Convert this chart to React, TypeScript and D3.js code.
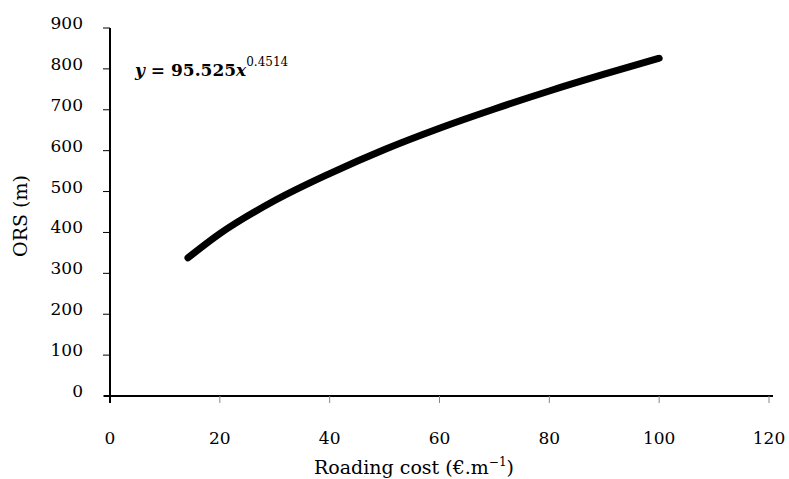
import React, { useEffect, useRef } from 'react';
import * as d3 from 'd3';

// values
const costs = [14.2, 20, 30, 40, 50, 60, 70, 80, 90, 100];
const ors = [338, 397, 478, 544, 603, 655, 702, 746, 787, 826];
const xTicks = [0, 20, 40, 60, 80, 100, 120];
const yTicks = [0, 100, 200, 300, 400, 500, 600, 700, 800, 900];

const width = 789;
const height = 479;
const margin = { top: 28, right: 20, bottom: 83, left: 110 };
const font = '"DejaVu Serif", serif';

/* App: draws the ORS vs roading cost curve */
export default function App() {
  const ref = useRef<SVGSVGElement>(null);

  useEffect(() => {
    const svg = d3.select(ref.current);
    svg.selectAll('*').remove();

    const x = d3.scaleLinear().domain([0, 120]).range([margin.left, 769]);
    const y = d3.scaleLinear().domain([0, 900]).range([height - margin.bottom, margin.top]);

    // x axis
    const gx = svg.append('g').attr('transform', `translate(0,${y(0)})`);
    gx.append('line')
      .attr('x1', x(0) - 6).attr('x2', x(120) + 4)
      .attr('stroke', '#000').attr('stroke-width', 2);
    gx.selectAll('line.tick').data(xTicks).enter().append('line')
      .attr('class', 'tick')
      .attr('x1', d => x(d)).attr('x2', d => x(d))
      .attr('y1', 0).attr('y2', 7)
      .attr('stroke', d => (d === 0 ? '#000' : '#888'))
      .attr('stroke-width', d => (d === 0 ? 2 : 1));
    gx.selectAll('text').data(xTicks).enter().append('text')
      .attr('x', d => x(d)).attr('y', 48)
      .attr('text-anchor', 'middle')
      .style('font-family', font).style('font-size', '17px')
      .text(d => d);

    // y axis
    const gy = svg.append('g').attr('transform', `translate(${x(0)},0)`);
    gy.append('line')
      .attr('y1', y(900)).attr('y2', y(0))
      .attr('stroke', '#000').attr('stroke-width', 2);
    gy.selectAll('line.tick').data(yTicks).enter().append('line')
      .attr('class', 'tick')
      .attr('x1', -7).attr('x2', 0)
      .attr('y1', d => y(d)).attr('y2', d => y(d))
      .attr('stroke', '#000').attr('stroke-width', 1);
    gy.selectAll('text').data(yTicks).enter().append('text')
      .attr('x', -27).attr('y', d => y(d) + 1)
      .attr('text-anchor', 'end')
      .style('font-family', font).style('font-size', '17px')
      .text(d => d);

    // curve
    const line = d3.line<number>()
      .x((d, i) => x(costs[i]))
      .y(d => y(d))
      .curve(d3.curveMonotoneX);
    svg.append('path')
      .datum(ors)
      .attr('d', line)
      .attr('fill', 'none')
      .attr('stroke', '#000')
      .attr('stroke-width', 7)
      .attr('stroke-linecap', 'round');

    // equation
    const eq = svg.append('text')
      .attr('x', 135).attr('y', 76)
      .style('font-family', font).style('font-size', '17px').style('font-weight', 'bold');
    eq.append('tspan').style('font-style', 'italic').text('y');
    eq.append('tspan').text(' = 95.525');
    eq.append('tspan').style('font-style', 'italic').text('x');
    eq.append('tspan').attr('dy', -10).style('font-size', '12px').style('font-weight', 'normal').text('0.4514');

    // axis titles
    const xt = svg.append('text')
      .attr('x', 414).attr('y', 474)
      .attr('text-anchor', 'middle')
      .style('font-family', font).style('font-size', '19px');
    xt.append('tspan').text('Roading cost (€.m');
    xt.append('tspan').attr('dy', -8).style('font-size', '12px').text('−1');
    xt.append('tspan').attr('dy', 8).text(')');

    svg.append('text')
      .attr('transform', `translate(27,216) rotate(-90)`)
      .attr('text-anchor', 'middle')
      .style('font-family', font).style('font-size', '19px')
      .text('ORS (m)');
  }, []);

  return (
    <svg ref={ref} width={width} height={height}
      style={{ position: 'absolute', left: 0, top: 0, background: '#fff' }} />
  );
}
